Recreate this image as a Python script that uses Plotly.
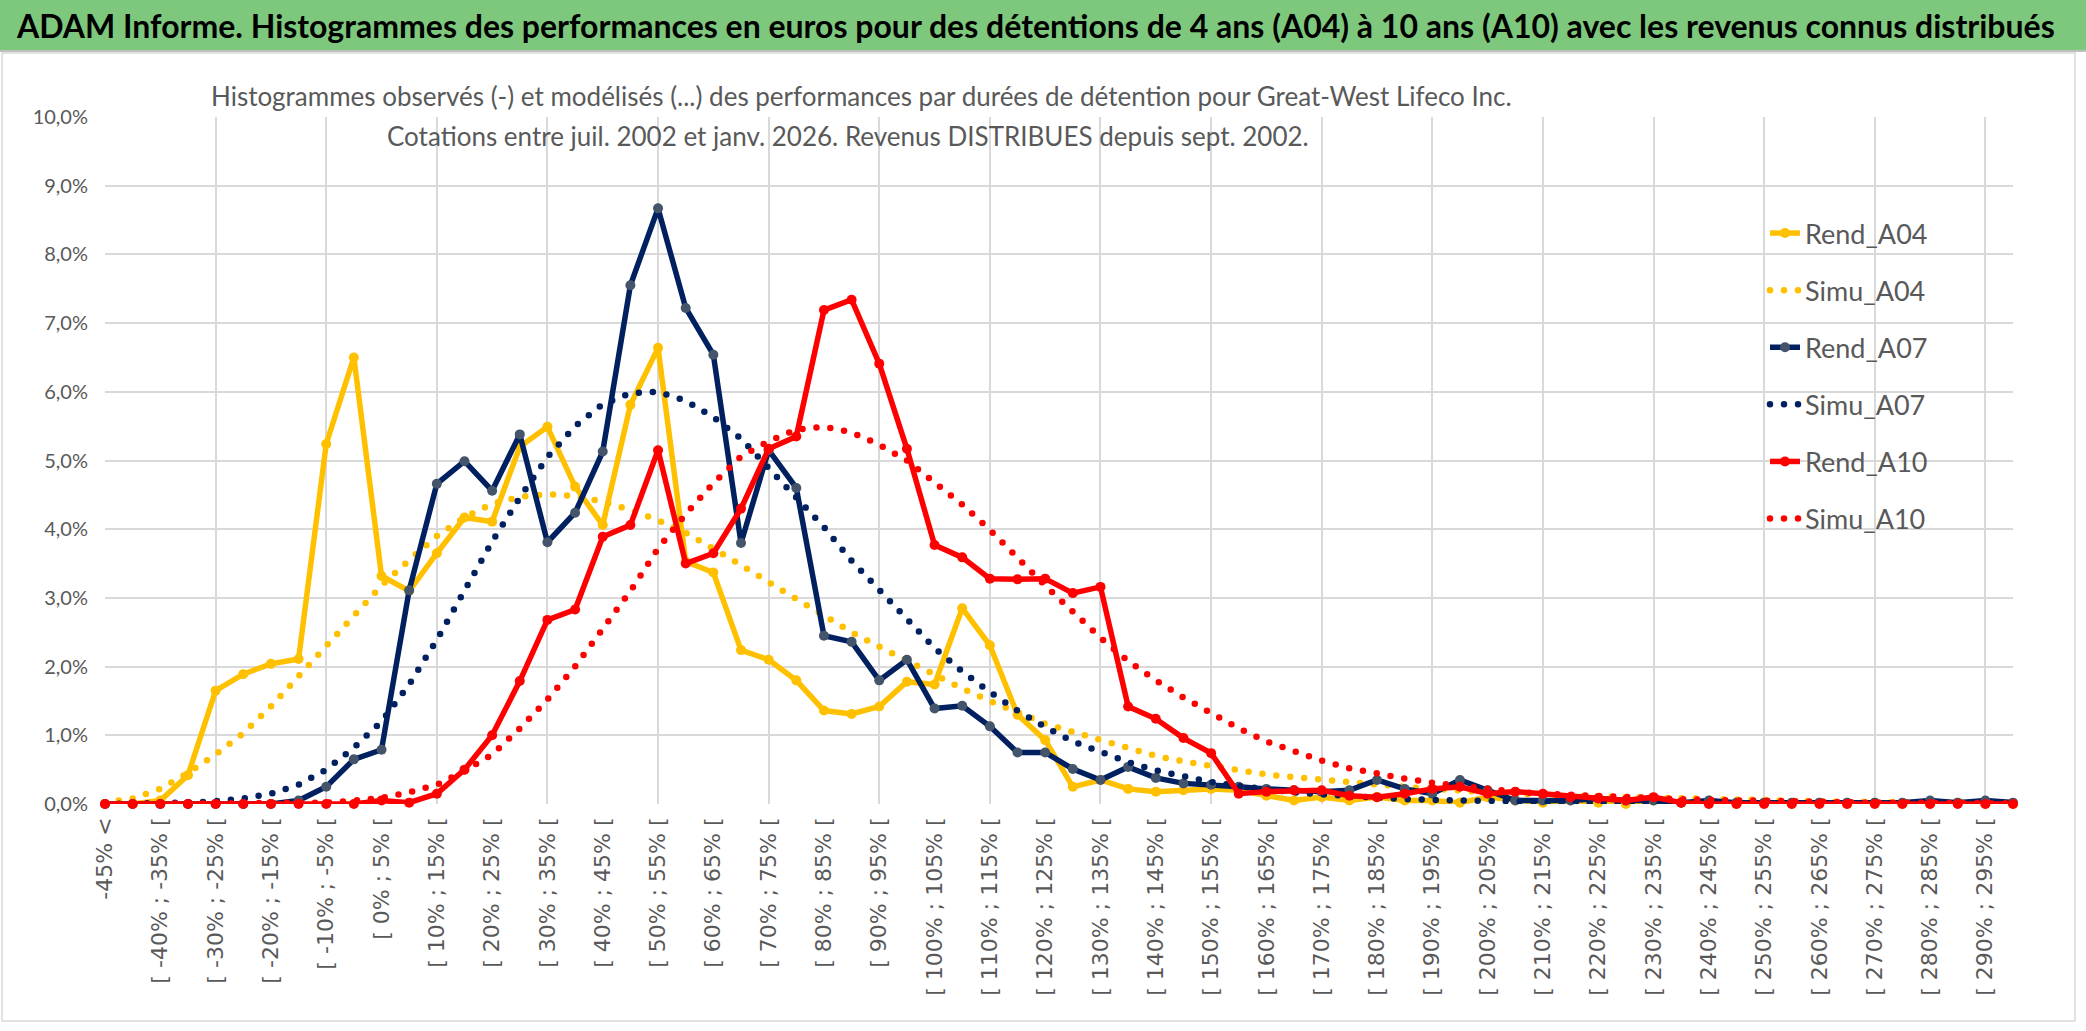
import plotly.graph_objects as go

# ---------------- data ----------------
categories = ["-45% <"] + [f"[ {a}% ; {a + 5}% [" for a in range(-45, 300, 5)]
idx = list(range(len(categories)))

rend_a04 = [0.00, 0.00, 0.05, 0.42, 1.65, 1.89, 2.04, 2.11, 5.24, 6.50,
            3.32, 3.10, 3.65, 4.17, 4.11, 5.20, 5.49, 4.62, 4.06, 5.81,
            6.64, 3.53, 3.37, 2.24, 2.10, 1.80, 1.36, 1.31, 1.42, 1.78,
            1.74, 2.85, 2.31, 1.30, 0.93, 0.25, 0.35, 0.22, 0.18, 0.20,
            0.22, 0.20, 0.12, 0.05, 0.10, 0.05, 0.10, 0.05, 0.05, 0.02,
            0.10, 0.05, 0.02, 0.05, 0.02, 0.00, 0.05, 0.02, 0.02, 0.00,
            0.02, 0.00, 0.02, 0.00, 0.02, 0.00, 0.00, 0.02, 0.00, 0.00]
simu_a04 = [0.02, 0.08, 0.22, 0.45, 0.72, 1.03, 1.42, 1.86, 2.29, 2.73,
            3.18, 3.55, 3.90, 4.17, 4.37, 4.47, 4.51, 4.48, 4.40, 4.28,
            4.13, 3.95, 3.72, 3.48, 3.23, 2.99, 2.76, 2.50, 2.29, 2.08,
            1.88, 1.68, 1.50, 1.33, 1.17, 1.05, 0.93, 0.81, 0.70, 0.62,
            0.55, 0.48, 0.43, 0.39, 0.35, 0.31, 0.28, 0.25, 0.22, 0.19,
            0.17, 0.15, 0.13, 0.12, 0.10, 0.09, 0.08, 0.07, 0.06, 0.05,
            0.05, 0.04, 0.04, 0.03, 0.03, 0.03, 0.02, 0.02, 0.02, 0.02]
rend_a07 = [0.00, 0.00, 0.00, 0.00, 0.00, 0.00, 0.00, 0.05, 0.25, 0.65,
            0.79, 3.11, 4.66, 4.99, 4.56, 5.38, 3.81, 4.24, 5.13, 7.55,
            8.67, 7.22, 6.54, 3.80, 5.15, 4.60, 2.45, 2.36, 1.80, 2.10,
            1.39, 1.43, 1.13, 0.75, 0.75, 0.51, 0.35, 0.54, 0.38, 0.30,
            0.28, 0.25, 0.22, 0.20, 0.18, 0.20, 0.35, 0.22, 0.15, 0.35,
            0.20, 0.05, 0.05, 0.05, 0.08, 0.05, 0.05, 0.02, 0.05, 0.02,
            0.02, 0.02, 0.02, 0.02, 0.02, 0.02, 0.05, 0.02, 0.05, 0.02]
simu_a07 = [0.00, 0.00, 0.01, 0.02, 0.04, 0.08, 0.15, 0.28, 0.50, 0.82,
            1.20, 1.74, 2.39, 3.10, 3.82, 4.46, 5.05, 5.50, 5.82, 5.98,
            6.00, 5.87, 5.63, 5.32, 4.90, 4.48, 4.03, 3.54, 3.11, 2.68,
            2.27, 1.93, 1.63, 1.36, 1.12, 0.91, 0.75, 0.61, 0.49, 0.40,
            0.32, 0.26, 0.21, 0.17, 0.14, 0.11, 0.09, 0.07, 0.06, 0.05,
            0.04, 0.03, 0.02, 0.02, 0.01, 0.01, 0.01, 0.01, 0.01, 0.00,
            0.00, 0.00, 0.00, 0.00, 0.00, 0.00, 0.00, 0.00, 0.00, 0.00]
rend_a10 = [0.00, 0.00, 0.00, 0.00, 0.00, 0.00, 0.00, 0.00, 0.00, 0.00,
            0.05, 0.02, 0.15, 0.50, 1.00, 1.79, 2.68, 2.83, 3.89, 4.06,
            5.15, 3.50, 3.65, 4.30, 5.17, 5.35, 7.19, 7.34, 6.41, 5.17,
            3.77, 3.59, 3.28, 3.27, 3.28, 3.07, 3.16, 1.42, 1.24, 0.96,
            0.74, 0.15, 0.18, 0.20, 0.20, 0.12, 0.10, 0.15, 0.22, 0.25,
            0.15, 0.18, 0.15, 0.10, 0.08, 0.05, 0.10, 0.02, 0.00, 0.00,
            0.00, 0.00, 0.00, 0.00, 0.00, 0.00, 0.00, 0.00, 0.00, 0.00]
simu_a10 = [0.00, 0.00, 0.00, 0.00, 0.00, 0.00, 0.00, 0.01, 0.02, 0.05,
            0.09, 0.17, 0.28, 0.48, 0.72, 1.10, 1.52, 2.00, 2.57, 3.10,
            3.72, 4.22, 4.67, 5.06, 5.28, 5.45, 5.49, 5.41, 5.23, 5.00,
            4.68, 4.36, 3.99, 3.58, 3.18, 2.80, 2.42, 2.08, 1.80, 1.55,
            1.33, 1.10, 0.91, 0.76, 0.63, 0.52, 0.44, 0.37, 0.31, 0.26,
            0.22, 0.18, 0.15, 0.13, 0.11, 0.09, 0.08, 0.07, 0.06, 0.05,
            0.04, 0.035, 0.03, 0.025, 0.02, 0.02, 0.015, 0.01, 0.01, 0.01]

y_ticks = [0, 1, 2, 3, 4, 5, 6, 7, 8, 9, 10]
y_labels = ["0,0%", "1,0%", "2,0%", "3,0%", "4,0%", "5,0%", "6,0%",
            "7,0%", "8,0%", "9,0%", "10,0%"]

title_text = ("ADAM Informe. Histogrammes des performances en euros pour des détentions "
              "de 4 ans (A04) à 10 ans (A10) avec les revenus connus distribués")
subtitle_1 = ("Histogrammes observés (-) et modélisés (...) des performances par durées "
              "de détention pour Great-West Lifeco Inc.")
subtitle_2 = "Cotations entre juil. 2002 et janv. 2026. Revenus DISTRIBUES depuis sept. 2002."

# ---------------- styling ----------------
YELLOW = "#FFC000"
NAVY = "#002060"
NAVY_MK = "#44546A"
RED = "#FF0000"
GRID = "#D9D9D9"
TXT = "#595959"
FONT = "Lato, Liberation Sans, sans-serif"

W, H = 2086, 1031
L, R, T, B = 105, 2013, 117, 804


def px(x):
    return (x - L) / (R - L)


def py(y):
    return (B - y) / (B - T)


fig = go.Figure()

series = [
    ("Rend_A04", rend_a04, YELLOW, YELLOW, True),
    ("Simu_A04", simu_a04, YELLOW, None, False),
    ("Rend_A07", rend_a07, NAVY, NAVY_MK, True),
    ("Simu_A07", simu_a07, NAVY, None, False),
    ("Rend_A10", rend_a10, RED, RED, True),
    ("Simu_A10", simu_a10, RED, None, False),
]
for k, (name, vals, col, mcol, solid) in enumerate(series):
    if solid:
        fig.add_trace(go.Scatter(
            x=idx, y=vals, name=name, mode="lines+markers",
            line=dict(color=col, width=5.5),
            marker=dict(size=10, color=mcol),
            cliponaxis=False, legendgroup=f"g{k}"))
    else:
        fig.add_trace(go.Scatter(
            x=idx, y=vals, name=name, mode="lines",
            line=dict(color=col, width=6.5, dash="0px,14px"),
            cliponaxis=False, legendgroup=f"g{k}"))

# invisible carrier for the gridline axis
fig.add_trace(go.Scatter(x=[], y=[], xaxis="x2", showlegend=False, hoverinfo="skip"))

shapes = [
    dict(type="rect", xref="paper", yref="paper", x0=px(2), x1=px(2075), y0=py(1021), y1=py(53),
         fillcolor="white", line=dict(color=GRID, width=1.5), layer="below"),
    dict(type="rect", xref="paper", yref="paper", x0=px(0), x1=px(W), y0=py(50), y1=py(0),
         fillcolor="#7DC87D", line=dict(width=0), layer="below"),
    dict(type="line", xref="paper", yref="paper", x0=px(0), x1=px(W), y0=py(51), y1=py(51),
         line=dict(color="#BFBFBF", width=2), layer="below"),
    dict(type="rect", xref="paper", yref="paper", x0=px(199), x1=px(2012), y0=py(159), y1=py(62),
         fillcolor="white", line=dict(width=0), layer="between"),
    dict(type="rect", xref="paper", yref="paper", x0=px(1733), x1=px(1988), y0=py(548), y1=py(203),
         fillcolor="white", line=dict(width=0), layer="between"),
]

annotations = [
    dict(text=f"<b>{title_text}</b>", xref="paper", yref="paper", x=px(14), y=py(25),
         xanchor="left", yanchor="middle", showarrow=False,
         font=dict(family=FONT, size=32, color="black")),
    dict(text=subtitle_1, xref="paper", yref="paper", x=px(861), y=py(96),
         xanchor="center", yanchor="middle", showarrow=False,
         font=dict(family=FONT, size=26, color=TXT)),
    dict(text=subtitle_2, xref="paper", yref="paper", x=px(848), y=py(136),
         xanchor="center", yanchor="middle", showarrow=False,
         font=dict(family=FONT, size=26, color=TXT)),
]

fig.update_layout(
    width=W, height=H,
    margin=dict(l=L, r=W - R, t=T, b=H - B, pad=0, autoexpand=False),
    paper_bgcolor="white", plot_bgcolor="rgba(0,0,0,0)",
    showlegend=True,
    legend=dict(x=px(1765), y=py(209), xanchor="left", yanchor="top",
                bgcolor="rgba(255,255,255,0)", borderwidth=0,
                font=dict(family=FONT, size=27, color=TXT),
                tracegroupgap=19, traceorder="grouped", itemwidth=30),
    xaxis=dict(range=[0, len(categories) - 1], tickmode="array",
               tickvals=idx[::2], ticktext=categories[::2], tickangle=-90,
               showgrid=False, zeroline=False, showline=False, ticks="",
               ticklabelstandoff=8,
               tickfont=dict(family="DejaVu Sans", size=22, color=TXT)),
    xaxis2=dict(range=[0, len(categories) - 1], overlaying="x", side="bottom",
                tickmode="array", tickvals=idx[::4], showticklabels=False,
                showgrid=True, gridcolor=GRID, gridwidth=2, zeroline=False,
                showline=False, ticks=""),
    yaxis=dict(range=[0, 10], tickmode="array", tickvals=y_ticks, ticktext=y_labels,
               showgrid=True, gridcolor=GRID, gridwidth=2, zeroline=False,
               showline=False, ticks="", ticklabelstandoff=16,
               tickfont=dict(family=FONT, size=20, color=TXT)),
    shapes=shapes, annotations=annotations,
    hovermode=False,
)

post = """
document.body.style.margin='0';
document.body.style.overflow='hidden';
var gd=document.getElementById('{plot_id}');
function roundDots(){
  gd.querySelectorAll('path').forEach(function(p){
    var d=p.style.strokeDasharray;
    if(d && d!=='none'){p.style.strokeLinecap='round';}
  });
}
roundDots();
if(gd.on){gd.on('plotly_afterplot', roundDots);}
"""

fig.write_html("out.html", post_script=post, config={"displayModeBar": False})
